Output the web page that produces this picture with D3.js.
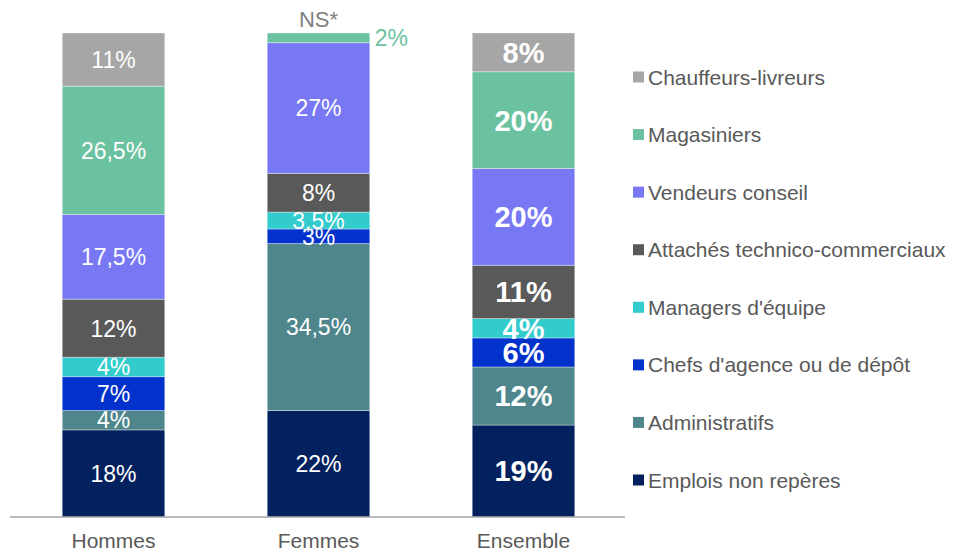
<!DOCTYPE html>
<html>
<head>
<meta charset="utf-8">
<script src="https://cdn.jsdelivr.net/npm/d3@7"></script>
<style>
  body { margin: 0; background: #fff; }
  svg { font-family: "Liberation Sans", Arial, sans-serif; }
</style>
</head>
<body>
<div id="chart"></div>
<script>
// categories (x axis)
var groups = ["Hommes", "Femmes", "Ensemble"];

// series, bottom to top of the stack
var series = ["Emplois non repères", "Administratifs", "Chefs d'agence ou de dépôt",
  "Managers d'équipe", "Attachés technico-commerciaux", "Vendeurs conseil",
  "Magasiniers", "Chauffeurs-livreurs"];

var colors = ["#03215e", "#4e868c", "#0231cc", "#33cccc", "#595959", "#7878f5", "#6bc2a0", "#a6a6a6"];

// percent values, one array per group, same order as series
var hommes   = [18, 4, 7, 4, 12, 17.5, 26.5, 11];
var femmes   = [22, 34.5, 3, 3.5, 8, 27, 2, 0];
var ensemble = [19, 12, 6, 4, 11, 20, 20, 8];

var width = 953, height = 551;

var svg = d3.select("#chart").append("svg")
  .attr("width", width)
  .attr("height", height);

var x = d3.scaleBand()
  .domain(groups)
  .range([11, 626])
  .paddingInner(0.5)
  .paddingOuter(0.25);

var y = d3.scaleLinear()
  .domain([0, 100])
  .range([517, 33]);

// build rows for d3.stack
var table = groups.map(function(g, i) {
  var vals = [hommes, femmes, ensemble][i];
  var row = { group: g };
  series.forEach(function(s, j) { row[s] = vals[j]; });
  return row;
});

var stack = d3.stack().keys(series)(table);

var layer = svg.selectAll(".layer")
  .data(stack)
  .enter().append("g")
  .attr("class", "layer")
  .attr("fill", function(d, i) { return colors[i]; });

layer.selectAll("rect")
  .data(function(d) { return d; })
  .enter().append("rect")
  .filter(function(d) { return d[1] - d[0] > 0; })
  .attr("x", function(d) { return x(d.data.group); })
  .attr("y", function(d) { return y(d[1]); })
  .attr("width", x.bandwidth())
  .attr("height", function(d) { return y(d[0]) - y(d[1]); })
  .style("stroke", "#ffffff")
  .style("stroke-opacity", 0.35)
  .style("stroke-width", 1);

function fmt(v) { return String(v).replace(".", ",") + "%"; }

// labels inside the segments
layer.selectAll("text")
  .data(function(d) { return d; })
  .enter().append("text")
  .filter(function(d) {
    var v = d[1] - d[0];
    // Femmes: 2% is written outside the bar, NS* on top
    return v > 2;
  })
  .attr("x", function(d) { return x(d.data.group) + x.bandwidth() / 2; })
  .attr("y", function(d) { return (y(d[0]) + y(d[1])) / 2; })
  .attr("dy", "0.36em")
  .attr("text-anchor", "middle")
  .style("fill", "#fff")
  .style("font-size", function(d) { return d.data.group === "Ensemble" ? "29px" : "23px"; })
  .style("font-weight", function(d) { return d.data.group === "Ensemble" ? "bold" : "normal"; })
  .text(function(d) { return fmt(d[1] - d[0]); });

// Femmes annotations
var fem = table[1];
var magTop = stack[6][1];
svg.append("text")
  .attr("x", x("Femmes") + x.bandwidth() + 5)
  .attr("y", (y(magTop[0]) + y(magTop[1])) / 2)
  .attr("dy", "0.36em")
  .style("fill", "#6bc2a0")
  .style("font-size", "23px")
  .text(fmt(fem["Magasiniers"]));

svg.append("text")
  .attr("x", x("Femmes") + x.bandwidth() / 2)
  .attr("y", y(100) - 14)
  .attr("dy", "0.36em")
  .attr("text-anchor", "middle")
  .style("fill", "#7f7f7f")
  .style("font-size", "22px")
  .text("NS*");

// x axis
var xAxis = svg.append("g")
  .attr("transform", "translate(0," + y(0) + ")")
  .call(d3.axisBottom(x).tickSize(0).tickPadding(16));
xAxis.select(".domain").attr("stroke", "#a6a6a6").attr("stroke-width", 1.5)
  .attr("d", "M10,0H625");
xAxis.selectAll("text")
  .style("font-size", "21px")
  .style("font-family", "Liberation Sans, Arial, sans-serif")
  .style("fill", "#595959");

// legend, top to bottom
var legendKeys = series.slice().reverse();
var ly = d3.scalePoint().domain(legendKeys).range([77, 480]);

var legend = svg.selectAll(".legend")
  .data(legendKeys)
  .enter().append("g")
  .attr("class", "legend")
  .attr("transform", function(d) { return "translate(633," + ly(d) + ")"; });

legend.append("rect")
  .attr("x", 0)
  .attr("y", -5.5)
  .attr("width", 11)
  .attr("height", 11)
  .style("fill", function(d) { return colors[series.indexOf(d)]; });

legend.append("text")
  .attr("x", 15)
  .attr("y", 0)
  .attr("dy", "0.36em")
  .style("font-size", "21px")
  .style("fill", "#595959")
  .text(function(d) { return d; });
</script>
</body>
</html>
